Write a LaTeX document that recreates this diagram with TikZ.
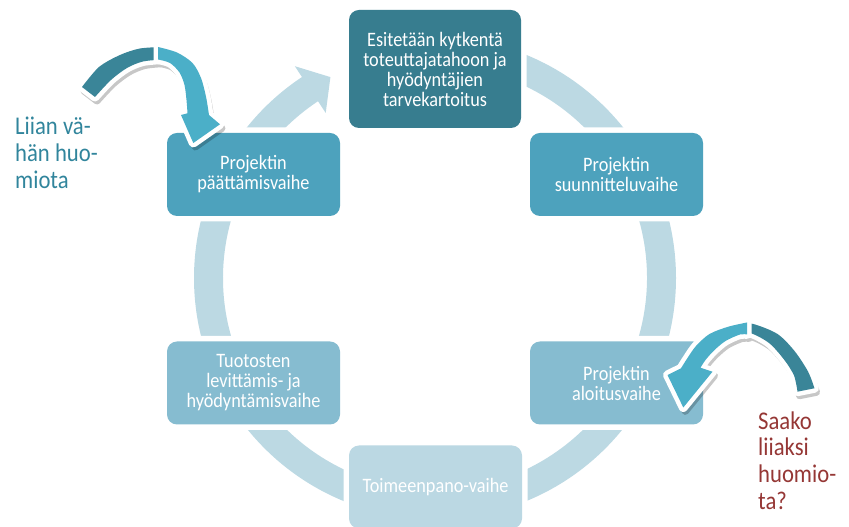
\documentclass[tikz,border=0pt]{standalone}
\usepackage{fontspec}
\setmainfont{Carlito}[FakeStretch=0.89]
\usetikzlibrary{calc}
\definecolor{ringc}{HTML}{BCD9E3}
\definecolor{topc}{HTML}{377D8F}
\definecolor{midc}{HTML}{4DA2BD}
\definecolor{lowc}{HTML}{86BCD0}
\definecolor{botc}{HTML}{BBD8E3}
\definecolor{arrdark}{HTML}{3A8598}
\definecolor{arrlight}{HTML}{4BAFC8}
\definecolor{labteal}{HTML}{31859C}
\definecolor{labred}{HTML}{953735}
\tikzset{
  leftdark/.style={insert path={plot[smooth] coordinates {(82,440) (99,460) (120,472) (140,478.5) (163,480)}
     -- plot[smooth] coordinates {(163,467.5) (143,465.5) (127,459) (111,447) (95,430)} -- cycle}},
  leftlight/.style={insert path={plot[smooth] coordinates {(158,480) (177,474.5) (192.5,464) (201,449) (206,430.3) (209,412)}
     -- (220,402.7) -- (193.3,384) -- (181,412)
     -- plot[smooth] coordinates {(187.5,413.7) (186.5,427) (184.5,442) (179.5,454.5) (170,464) (158,467.5)} -- cycle}},
  rightdark/.style={insert path={plot[smooth] coordinates {(735,204.5) (753.3,203) (777.5,193) (794.5,176) (808,155.5) (814.5,138.7)}
     -- plot[smooth] coordinates {(797.5,135.3) (794,151.5) (784,167.5) (769,184) (750,194) (735,192.5)} -- cycle}},
  rightlight/.style={insert path={plot[smooth] coordinates {(747,204.5) (728.3,200.3) (709.5,193) (696,181) (687.5,169) (681,158.7)}
     -- (667.5,152) -- (683.3,119.5) -- (712.5,155.3)
     -- plot[smooth] coordinates {(700.5,159.3) (705.5,167) (714,176.5) (725.5,186) (740,192.5) (747,192.5)} -- cycle}},
}
\begin{document}
\begin{tikzpicture}[x=1pt,y=1pt,
  phase/.style={rounded corners=10pt, text=white, align=center, inner sep=0pt,
     font=\fontsize{20.5}{20}\selectfont, preaction={draw=white, line width=11pt}},
  lab/.style={anchor=base west, align=left, inner sep=0pt, font=\fontsize{25.5}{26.8}\selectfont},
  whiteedge/.style={draw=white, line width=9pt, line join=round}]
\useasboundingbox (0,0) rectangle (849,527);
\coordinate (C) at (435,249);
% continuous cycle ring
\fill[ringc] ($(C)+(90:241)$) arc[start angle=90, end angle=-236.5, radius=241]
  -- ($(C)+(-236.5:254)$) -- ($(C)+(-242.5:226.5)$) -- ($(C)+(-236.5:198)$) -- ($(C)+(-236.5:212)$)
  arc[start angle=-236.5, end angle=90, radius=212] -- cycle;
% phases
\node[phase, fill=topc, minimum width=172pt, minimum height=118pt] (s1) at (435,458)
  {Esitetään kytkentä\\toteuttajatahoon ja\\hyödyntäjien\\tarvekartoitus};
\node[phase, fill=midc, minimum width=173pt, minimum height=83pt] (s2) at (616.5,352.5)
  {Projektin\\suunnitteluvaihe};
\node[phase, fill=lowc, minimum width=173pt, minimum height=83pt] (s3) at (616.5,144)
  {Projektin\\aloitusvaihe};
\node[phase, fill=botc, minimum width=173pt, minimum height=83pt] (s4) at (435.5,40)
  {Toimeenpano-vaihe};
\node[phase, fill=lowc, minimum width=173pt, minimum height=83pt] (s5) at (253.5,144)
  {Tuotosten\\levittämis- ja\\hyödyntämisvaihe};
\node[phase, fill=midc, minimum width=173pt, minimum height=83pt] (s6) at (253.5,352.5)
  {Projektin\\päättämisvaihe};
% curved arrows: shadows
\begin{scope}[transparency group, opacity=0.22]
  \fill[black, draw=black, line width=7pt, line join=round, shift={(2,-4)}, leftdark];
  \fill[black, draw=black, line width=7pt, line join=round, shift={(2,-4)}, leftlight];
  \fill[black, draw=black, line width=7pt, line join=round, shift={(2,-4)}, rightdark];
  \fill[black, draw=black, line width=7pt, line join=round, shift={(2,-4)}, rightlight];
\end{scope}
% curved arrows
\path[whiteedge, leftdark];
\fill[arrdark, leftdark];
\path[whiteedge, leftlight];
\fill[arrlight, leftlight];
\path[whiteedge, rightdark];
\fill[arrdark, rightdark];
\path[whiteedge, rightlight];
\fill[arrlight, rightlight];
% labels (base = last line)
\node[lab, text=labteal] (l1) at (15,338.5) {Liian vä-\\hän huo-\\miota};
\node[lab, text=labred] (l2) at (758,17.5) {Saako\\liiaksi\\huomio-\\ta?};
\end{tikzpicture}
\end{document}
